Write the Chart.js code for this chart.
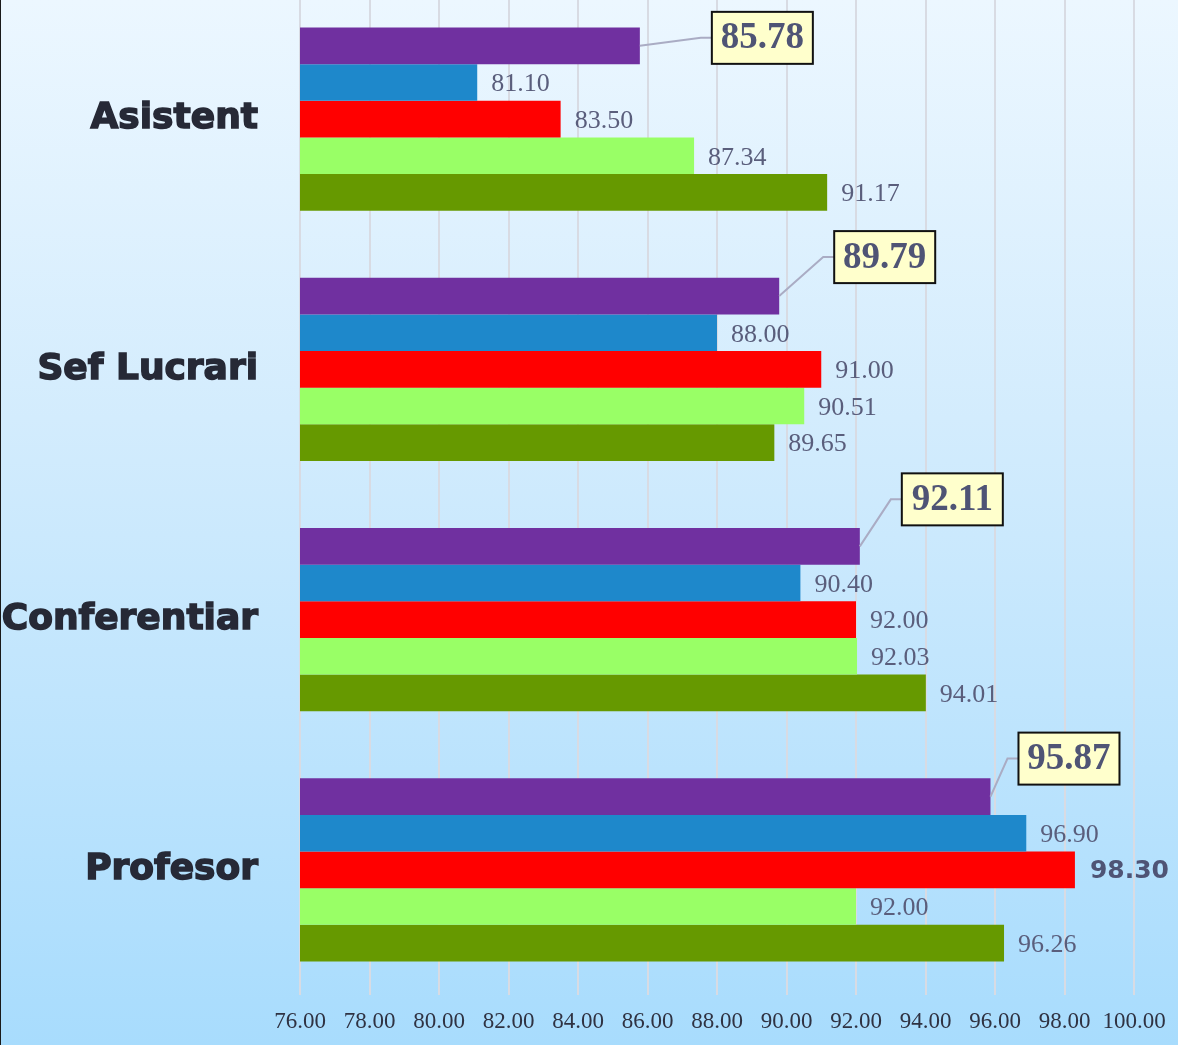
<!DOCTYPE html>
<html>
<head>
<meta charset="utf-8">
<script src="https://cdn.jsdelivr.net/npm/chart.js@4.4.1/dist/chart.umd.min.js"></script>
<style>
    html, body {
        margin: 0;
        padding: 0;
        width: 1178px;
        height: 1045px;
        overflow: hidden;
    }
    body {
        position: relative;
        background: linear-gradient(to bottom, #ecf7ff 0%, #d3ecfd 40%, #a8dcfd 100%);
    }
    #wrap {
        position: absolute;
        left: 0;
        top: -6px;
        width: 1178px;
        height: 1051px;
    }
    #edge {
        position: absolute;
        left: 0;
        top: 0;
        width: 1px;
        height: 1045px;
        background: #1a1a1a;
    }
</style>
</head>
<body>
<div id="wrap"><canvas id="myChart"></canvas></div>
<div id="edge"></div>
<script>
const categories = ['Asistent', 'Sef Lucrari', 'Conferentiar', 'Profesor'];
const purpleValues = [85.78, 89.79, 92.11, 95.87];
const blueValues = [81.10, 88.00, 90.40, 96.90];
const redValues = [83.50, 91.00, 92.00, 98.30];
const lightGreenValues = [87.34, 90.51, 92.03, 92.00];
const darkGreenValues = [91.17, 89.65, 94.01, 96.26];
const xTicks = [76, 78, 80, 82, 84, 86, 88, 90, 92, 94, 96, 98, 100];

// where the callout boxes of the first series sit, relative to the bar end
const calloutOffsets = [[72, -8], [55, -39], [42, -47], [28, -38]];

const serif = "'Liberation Serif', 'Times New Roman', serif";

const labelPlugin = {
    id: 'barLabels',
    afterDatasetsDraw(chart) {
        const ctx = chart.ctx;
        ctx.save();
        chart.data.datasets.forEach(function (ds, di) {
            const meta = chart.getDatasetMeta(di);
            meta.data.forEach(function (bar, i) {
                const text = ds.data[i].toFixed(2);
                if (di === 0) {
                    // callout with leader line
                    ctx.font = 'bold 37px ' + serif;
                    const w = 101;
                    const h = 52;
                    const bx = bar.x + calloutOffsets[i][0];
                    const cy = bar.y + calloutOffsets[i][1];
                    ctx.strokeStyle = '#aaacc4';
                    ctx.lineWidth = 2;
                    ctx.beginPath();
                    ctx.moveTo(bar.x, bar.y);
                    ctx.lineTo(bx - 11, cy);
                    ctx.lineTo(bx, cy);
                    ctx.stroke();
                    ctx.fillStyle = '#ffffcc';
                    ctx.fillRect(bx, cy - h / 2, w, h);
                    ctx.strokeStyle = '#111111';
                    ctx.strokeRect(bx, cy - h / 2, w, h);
                    ctx.fillStyle = '#4f5475';
                    ctx.textAlign = 'center';
                    ctx.textBaseline = 'middle';
                    ctx.fillText(text, bx + w / 2, cy + 1);
                } else if (di === 2 && i === 3) {
                    ctx.font = "bold 25px 'DejaVu Sans', sans-serif";
                    ctx.fillStyle = '#4f5475';
                    ctx.textAlign = 'left';
                    ctx.textBaseline = 'middle';
                    ctx.fillText(text, bar.x + 15, bar.y + 2);
                } else {
                    ctx.font = '26px ' + serif;
                    ctx.fillStyle = '#5a5e7c';
                    ctx.textAlign = 'left';
                    ctx.textBaseline = 'middle';
                    ctx.fillText(text, bar.x + 14, bar.y + 2);
                }
            });
        });
        ctx.restore();
    }
};

const ctx1 = document.getElementById('myChart');

const myChart = new Chart(ctx1, {
    type: 'bar',
    data: {
        labels: categories,
        datasets: [
            { data: purpleValues, backgroundColor: '#7030a0' },
            { data: blueValues, backgroundColor: '#1e88cb' },
            { data: redValues, backgroundColor: '#ff0000' },
            { data: lightGreenValues, backgroundColor: '#99ff66' },
            { data: darkGreenValues, backgroundColor: '#669900' }
        ]
    },
    options: {
        indexAxis: 'y',
        responsive: true,
        maintainAspectRatio: false,
        animation: false,
        layout: { padding: { left: 0, right: 44, top: 0, bottom: 0 } },
        datasets: {
            bar: {
                categoryPercentage: 0.732,
                barPercentage: 1
            }
        },
        plugins: {
            legend: { display: false },
            tooltip: { enabled: false }
        },
        scales: {
            x: {
                min: 76,
                max: 100,
                afterBuildTicks: function (scale) {
                    scale.ticks = xTicks.map(function (v) { return { value: v }; });
                },
                afterFit: function (scale) {
                    scale.height = 50;
                    scale.paddingLeft = 0;
                    scale.paddingRight = 0;
                },
                grid: {
                    color: '#d8dbe3',
                    lineWidth: 2,
                    drawTicks: false
                },
                border: { display: false },
                ticks: {
                    padding: 13,
                    maxRotation: 0,
                    autoSkip: false,
                    color: '#2f3242',
                    font: { family: serif, size: 23 },
                    callback: function (v) { return Number(v).toFixed(2); }
                }
            },
            y: {
                afterFit: function (scale) {
                    scale.width = 300;
                    scale.paddingTop = 0;
                    scale.paddingBottom = 0;
                },
                grid: { display: false, drawTicks: false },
                border: { display: false },
                ticks: {
                    padding: 42,
                    color: '#262936',
                    textStrokeColor: '#262936',
                    textStrokeWidth: 1.5,
                    font: { family: "'DejaVu Sans', sans-serif", size: 36, weight: 'bold' }
                }
            }
        }
    },
    plugins: [labelPlugin]
});
</script>
</body>
</html>
